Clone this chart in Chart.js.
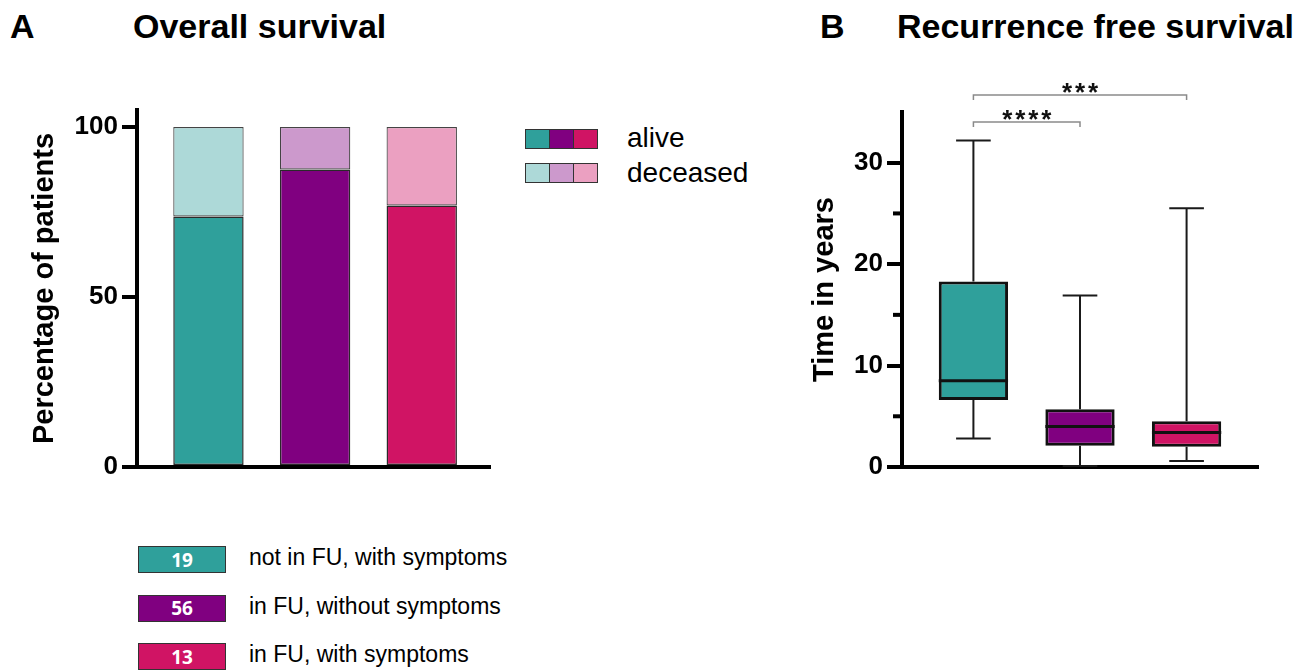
<!DOCTYPE html>
<html>
<head>
<meta charset="utf-8">
<script src="https://cdn.jsdelivr.net/npm/chart.js@4.4.1/dist/chart.umd.min.js"></script>
<style>
  body { margin: 0; background: #fff; font-family: "Liberation Sans", Arial, sans-serif; color: #000; }
  #page { position: relative; width: 1308px; height: 671px; overflow: hidden; }
  .title { position: absolute; top: 9px; font-weight: bold; font-size: 34px; line-height: 1; white-space: nowrap; }
  canvas { position: absolute; }
  .swatch { position: absolute; left: 525px; display: flex; }
  .swatch div { width: 23px; height: 18px; border: 1px solid #333; margin-right: -1px; }
  .keytext { position: absolute; left: 627px; font-size: 28px; line-height: 1; white-space: nowrap; }
  .grp { position: absolute; left: 138px; width: 86px; height: 25px; border: 1.5px solid #333;
         display: flex; align-items: center; justify-content: center;
         color: #fff; font-family: "Open Sans", sans-serif; font-weight: bold; font-size: 19px; }
  .grptext { position: absolute; left: 249px; font-size: 23px; line-height: 1; white-space: nowrap; }
</style>
</head>
<body>
<div id="page">
  <div class="title" style="left:10px">A</div>
  <div class="title" style="left:133px">Overall survival</div>
  <div class="title" style="left:820px">B</div>
  <div class="title" style="left:897px">Recurrence free survival</div>

  <canvas id="chartA" width="500" height="430" style="left:0px; top:60px"></canvas>
  <canvas id="chartB" width="520" height="430" style="left:780px; top:60px"></canvas>

  <div id="key"></div>
  <div id="groupKey"></div>
</div>

<script>
// groups
const groupNames = ["not in FU, with symptoms", "in FU, without symptoms", "in FU, with symptoms"];
const groupCounts = [19, 56, 13];
const groupPos = [1, 2, 3];

// overall survival (% of patients)
const alivePct = [73.7, 87.5, 76.9];
const deceasedPct = [26.3, 12.5, 23.1];
const pctTicks = [0, 50, 100];

// recurrence free survival (years)
const rfsMin = [2.8, 0.1, 0.6];
const rfsQ1 = [6.6, 2.1, 2.0];
const rfsMedian = [8.5, 4.0, 3.4];
const rfsQ3 = [18.3, 5.7, 4.5];
const rfsMax = [32.2, 16.9, 25.5];
const yearTicks = [0, 10, 20, 30];
const yearMinorTicks = [5, 15, 25];

// significance
const sigPairs = [[0, 1], [0, 2]];
const sigLabels = ["****", "***"];

const strong = ["#2FA09B", "#800080", "#D01464"];
const light = ["#ADD9D8", "#CC99CC", "#EBA0C1"];
const FONT = "'Liberation Sans', Arial, sans-serif";

// legends as html
const key = document.getElementById("key");
[["alive", strong, 129, 124], ["deceased", light, 163, 159]].forEach(([label, cols, top, textTop]) => {
  const sw = document.createElement("div");
  sw.className = "swatch";
  sw.style.top = top + "px";
  cols.forEach(c => {
    const d = document.createElement("div");
    d.style.background = c;
    sw.appendChild(d);
  });
  key.appendChild(sw);
  const t = document.createElement("div");
  t.className = "keytext";
  t.style.top = textTop + "px";
  t.textContent = label;
  key.appendChild(t);
});

const groupKey = document.getElementById("groupKey");
groupNames.forEach((name, i) => {
  const box = document.createElement("div");
  box.className = "grp";
  box.style.top = (546 + i * 48.5) + "px";
  box.style.background = strong[i];
  box.textContent = groupCounts[i];
  groupKey.appendChild(box);
  const t = document.createElement("div");
  t.className = "grptext";
  t.style.top = (546 + i * 48.5) + "px";
  t.textContent = name;
  groupKey.appendChild(t);
});

function fixedTicks(values) {
  return scale => { scale.ticks = values.map(v => ({ value: v })); };
}

function yAxis(max, ticks, title, width) {
  return {
    stacked: true,
    min: 0,
    max: max,
    afterBuildTicks: fixedTicks(ticks),
    ticks: { color: "#000", padding: 4, font: { family: FONT, size: 26, weight: "bold" } },
    grid: { drawOnChartArea: false, tickLength: 15, lineWidth: 4, color: "#000" },
    border: { color: "#000", width: 4 },
    title: {
      display: true, text: title, color: "#000",
      font: { family: FONT, size: 29, weight: "bold" },
      padding: { top: 28, bottom: 0 }
    },
    afterFit: s => { s.width = width; }
  };
}

function xAxis(max) {
  return {
    type: "linear",
    stacked: true,
    offset: false,
    min: 0.33,
    max: max,
    afterBuildTicks: fixedTicks(groupPos),
    ticks: { display: false },
    grid: { display: false, offset: false },
    border: { color: "#000", width: 4 },
    afterFit: s => { s.height = 23; }
  };
}

// panel A: stacked bars
new Chart(document.getElementById("chartA"), {
  type: "bar",
  data: {
    datasets: [
      {
        label: "alive",
        data: groupPos.map((x, i) => ({ x: x, y: alivePct[i] })),
        backgroundColor: strong,
        borderColor: "#2a2a2a",
        borderWidth: 1.5,
        borderSkipped: false
      },
      {
        label: "deceased",
        data: groupPos.map((x, i) => ({ x: x, y: deceasedPct[i] })),
        backgroundColor: light,
        borderColor: "#444",
        borderWidth: 1.2,
        borderSkipped: false
      }
    ]
  },
  options: {
    responsive: false,
    animation: false,
    barPercentage: 0.66,
    categoryPercentage: 1,
    layout: { padding: { top: 50, right: 10, left: 0, bottom: 0 } },
    plugins: { legend: { display: false }, tooltip: { enabled: false } },
    scales: { x: xAxis(3.64), y: yAxis(105, pctTicks, "Percentage of patients", 137) }
  }
});

// panel B: box plots, whiskers + median + brackets drawn here
const boxPlugin = {
  id: "boxExtras",
  afterDatasetsDraw(chart) {
    const { ctx, scales: { x, y }, chartArea } = chart;
    const meta = chart.getDatasetMeta(0);
    ctx.save();
    groupPos.forEach((g, i) => {
      const cx = x.getPixelForValue(g);
      const w = meta.data[i].width;
      const cap = w / 4;
      const yMax = y.getPixelForValue(rfsMax[i]);
      const yMin = y.getPixelForValue(rfsMin[i]);
      ctx.strokeStyle = "#1a1a1a";
      ctx.lineWidth = 2;
      ctx.beginPath();
      ctx.moveTo(cx, y.getPixelForValue(rfsQ3[i]));
      ctx.lineTo(cx, yMax);
      ctx.moveTo(cx - cap, yMax);
      ctx.lineTo(cx + cap, yMax);
      ctx.moveTo(cx, y.getPixelForValue(rfsQ1[i]));
      ctx.lineTo(cx, yMin);
      ctx.moveTo(cx - cap, yMin);
      ctx.lineTo(cx + cap, yMin);
      ctx.stroke();
      // median
      const ym = y.getPixelForValue(rfsMedian[i]);
      ctx.strokeStyle = "#111";
      ctx.lineWidth = 3;
      ctx.beginPath();
      ctx.moveTo(cx - w / 2, ym);
      ctx.lineTo(cx + w / 2, ym);
      ctx.stroke();
    });

    // minor ticks
    ctx.strokeStyle = "#000";
    ctx.lineWidth = 4;
    yearMinorTicks.forEach(v => {
      const py = y.getPixelForValue(v);
      ctx.beginPath();
      ctx.moveTo(chartArea.left - 9, py);
      ctx.lineTo(chartArea.left, py);
      ctx.stroke();
    });

    // significance brackets
    sigPairs.forEach(([a, b], k) => {
      const x0 = x.getPixelForValue(groupPos[a]);
      const x1 = x.getPixelForValue(groupPos[b]);
      const ly = chartArea.top + 10 - 27 * k;
      ctx.strokeStyle = "#8a8a8a";
      ctx.lineWidth = 1.5;
      ctx.beginPath();
      ctx.moveTo(x0, ly + 5);
      ctx.lineTo(x0, ly);
      ctx.lineTo(x1, ly);
      ctx.lineTo(x1, ly + 5);
      ctx.stroke();
      const label = sigLabels[k];
      const step = 13;
      const mid = (x0 + x1) / 2;
      ctx.fillStyle = "#111";
      ctx.font = "bold 26px " + FONT;
      ctx.textAlign = "center";
      ctx.textBaseline = "alphabetic";
      for (let j = 0; j < label.length; j++) {
        const sx = mid + (j - (label.length - 1) / 2) * step;
        ctx.fillText(label[j], sx, ly - 9 + 15);
      }
    });
    ctx.restore();
  }
};

new Chart(document.getElementById("chartB"), {
  type: "bar",
  data: {
    datasets: [{
      label: "time",
      data: groupPos.map((x, i) => ({ x: x, y: [rfsQ1[i], rfsQ3[i]] })),
      backgroundColor: strong,
      borderColor: "#111",
      borderWidth: 3,
      borderSkipped: false
    }]
  },
  options: {
    responsive: false,
    animation: false,
    barPercentage: 0.65,
    categoryPercentage: 1,
    layout: { padding: { top: 52, right: 42, left: 0, bottom: 0 } },
    plugins: { legend: { display: false }, tooltip: { enabled: false } },
    scales: { x: xAxis(3.67), y: yAxis(35, yearTicks, "Time in years", 122) }
  },
  plugins: [boxPlugin]
});
</script>
</body>
</html>
